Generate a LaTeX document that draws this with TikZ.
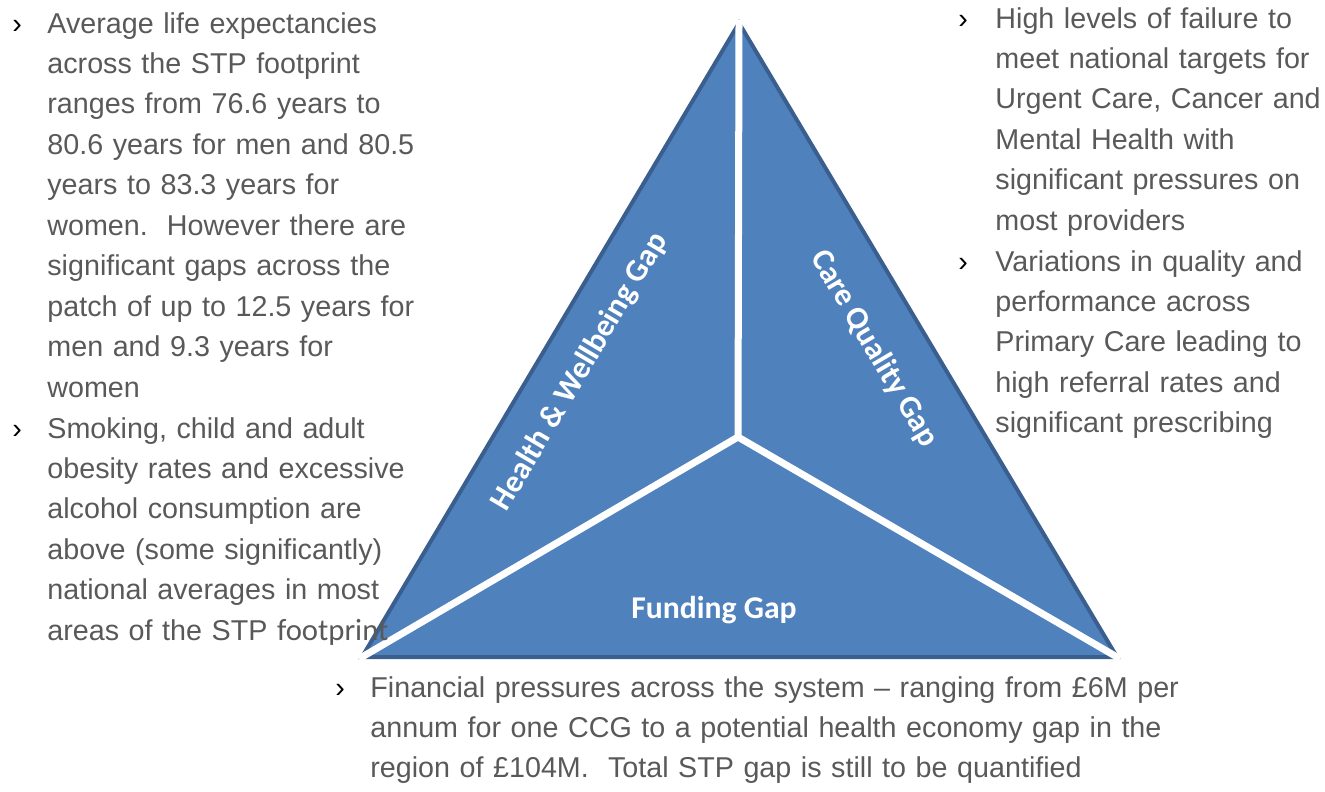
\documentclass[tikz,border=0pt]{standalone}
\usepackage{fontspec}
\usepackage{xcolor}
\usepackage{tikz}
\setmainfont{Liberation Sans}
\newfontfamily\carlito{Carlito}
\frenchspacing
\definecolor{textgrey}{HTML}{595959}
\definecolor{gapblue}{HTML}{4F81BD}
\definecolor{gapedge}{HTML}{3A5F8F}
\tikzset{
  bodytext/.style={anchor=base west, inner sep=0pt, align=left, text width=#1,
    text=textgrey, font=\fontsize{14.4}{20.3}\selectfont},
  bulletmark/.style={anchor=base west, inner sep=0pt, font=\fontsize{14.4}{20.3}\selectfont},
  gaplabel/.style={inner sep=0pt, text=white, font=\carlito\bfseries\fontsize{15.9}{18}\selectfont}
}

\begin{document}
\begin{tikzpicture}[x=0.5bp,y=-0.5bp]
  \useasboundingbox (0,0) rectangle (1325,791);

  % Triangle
  \coordinate (apex) at (739,23);
  \coordinate (left) at (362,657);
  \coordinate (right) at (1117,657);
  \coordinate (hub) at (738,437);
  \filldraw[fill=gapblue, draw=gapedge, line width=2bp] (apex) -- (right) -- (left) -- cycle;
  \draw[white, line width=3.5bp, line cap=round] (hub) -- (apex) (hub) -- (left) (hub) -- (right);

  % Gap labels
  \node[gaplabel, rotate=59.4] (hwgap) at (580,372) {Health \& Wellbeing Gap};
  \node[gaplabel, rotate=-59.4] (cqgap) at (874,349) {Care Quality Gap};
  \node[gaplabel] (fgap) at (714,610) {Funding Gap};

  % Left text
  \node[bulletmark] (lbullet1) at (12,33) {›};
  \node[bodytext=200bp] (lefttext1) at (47,33) {Average life expectancies\\
    across the STP footprint\\
    ranges from 76.6 years to\\
    80.6 years for men and 80.5\\
    years to 83.3 years for\\
    women.~ However there are\\
    significant gaps across the\\
    patch of up to 12.5 years for\\
    men and 9.3 years for\\
    women};
  \node[bulletmark] (lbullet2) at (12,438) {›};
  \node[bodytext=200bp] (lefttext2) at (47,438) {Smoking, child and adult\\
    obesity rates and excessive\\
    alcohol consumption are\\
    above (some significantly)\\
    national averages in most\\
    areas of the STP {\carlito\fontsize{15.4}{20.3}\selectfont footprint}};

  % Right text
  \node[bulletmark] (rbullet1) at (958,28) {›};
  \node[bodytext=170bp] (righttext1) at (995,28) {High levels of failure to\\
    meet national targets for\\
    Urgent Care, Cancer and\\
    Mental Health with\\
    significant pressures on\\
    most providers};
  \node[bulletmark] (rbullet2) at (958,271) {›};
  \node[bodytext=170bp] (righttext2) at (995,271) {Variations in quality and\\
    performance across\\
    Primary Care leading to\\
    high referral rates and\\
    significant prescribing};

  % Bottom text
  \node[bulletmark] (bbullet) at (335,697) {›};
  \node[bodytext=420bp] (bottomtext) at (370,697) {Financial pressures across the system -- ranging from £6M per\\
    annum for one CCG to a potential health economy gap in the\\
    region of £104M.~ Total STP gap is still to be quantified};
\end{tikzpicture}
\end{document}
